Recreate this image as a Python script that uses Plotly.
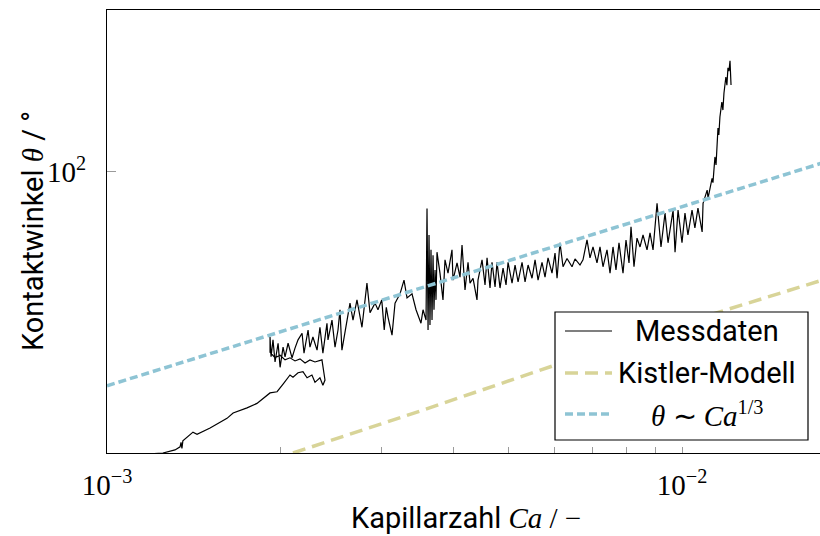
import math
import plotly.graph_objects as go

# ---------------- data ----------------
# Capillary number in units of 1e-3, contact angle in degrees
ca_mess_milli = [
    # lower branch
    1.141, 1.251, 1.313, 1.340, 1.345, 1.350, 1.355, 1.411, 1.434, 1.511, 1.617, 1.657,
    1.752, 1.823, 1.921, 1.976, 2.024, 2.081, 2.106, 2.149, 2.192, 2.228, 2.272, 2.300,
    2.346, 2.374, 2.394,
    # jump and return
    2.374, 2.365, 2.300, 2.254, 2.210, 2.166, 2.123, 2.081, 2.040, 2.000, 1.960, 1.921,
    # noisy upper branch
    1.921, 1.929, 1.944, 1.960, 1.984, 2.000, 2.024, 2.040, 2.065, 2.098, 2.123, 2.149,
    2.184, 2.201, 2.237, 2.254, 2.281, 2.319, 2.346, 2.374, 2.413, 2.423, 2.462, 2.492,
    2.522, 2.542, 2.562, 2.594, 2.646, 2.678, 2.721, 2.776, 2.832, 2.867, 2.925, 2.960,
    3.005, 3.035, 3.060, 3.081, 3.131, 3.169, 3.233, 3.285, 3.325, 3.392, 3.447, 3.516,
    3.545, 3.588, 3.602, 3.617, 3.631, 3.645, 3.660, 3.675, 3.690, 3.704, 3.7195, 3.734,
    3.749, 3.794, 3.840, 3.871, 3.918, 3.981, 3.997, 4.062, 4.111, 4.144, 4.194, 4.245,
    4.279, 4.331, 4.400, 4.418, 4.490, 4.544, 4.581, 4.636, 4.673, 4.730, 4.768, 4.825,
    4.884, 4.943, 4.983, 5.063, 5.125, 5.187, 5.270, 5.334, 5.399, 5.485, 5.552, 5.619,
    5.709, 5.778, 5.848, 5.942, 6.014, 6.063, 6.135, 6.210, 6.310, 6.438, 6.516, 6.647,
    6.727, 6.836, 6.918, 7.002, 7.115, 7.201, 7.288, 7.406, 7.496, 7.586, 7.677, 7.770,
    7.896, 7.991, 8.088, 8.153, 8.251, 8.351, 8.453, 8.555, 8.693, 8.798, 8.905, 9.049,
    9.193, 9.343, 9.456, 9.649, 9.725, 9.843, 10.00, 10.12, 10.24, 10.41, 10.53, 10.66,
    10.84, 10.88, 11.06, 11.10, 11.19,
    # steep rise
    11.28, 11.32, 11.41, 11.46, 11.50, 11.55, 11.59, 11.64, 11.73, 11.78, 11.83, 11.92,
    11.97, 12.02, 12.07, 12.12, 12.17,
]
theta_mess = [
    29.8, 30.0, 30.4, 30.8, 31.4, 30.6, 31.6, 32.8, 32.5, 33.4, 34.8, 35.6,
    36.4, 37.1, 38.8, 39.0, 40.3, 41.9, 41.5, 42.3, 42.5, 41.4, 41.9, 40.6,
    41.4, 40.1, 41.0,
    43.7, 44.7, 44.3, 44.7, 44.1, 44.9, 44.5, 45.1, 44.7, 45.6, 45.1, 46.2,
    49.3, 45.3, 48.7, 44.3, 48.0, 43.3, 47.2, 45.3, 48.0, 45.1, 47.0, 48.7,
    50.1, 46.0, 50.8, 47.2, 49.3, 46.6, 51.4, 46.0, 52.3, 48.7, 53.0, 47.2,
    50.8, 55.4, 46.6, 50.1, 57.0, 53.0, 57.8, 51.4, 62.1, 54.7, 57.0, 55.4,
    57.8, 50.8, 56.0, 53.7, 49.7, 57.0, 59.3, 62.9, 58.3, 59.3, 55.4, 52.3,
    55.4, 53.0, 85.5, 50.8, 76.3, 51.9, 71.6, 53.0, 70.0, 55.4, 65.7, 57.8,
    70.9, 64.8, 57.8, 68.6, 64.8, 71.6, 62.9, 67.7, 63.7, 73.1, 60.3, 67.9,
    62.1, 63.4, 57.8, 62.9, 68.6, 61.6, 69.2, 60.8, 67.9, 61.1, 67.9, 60.8,
    66.2, 61.6, 67.9, 62.1, 67.1, 62.4, 67.9, 62.4, 67.1, 63.4, 68.6, 62.9,
    67.9, 63.7, 69.2, 64.8, 70.6, 63.4, 73.8, 66.6, 69.0, 66.6, 68.9, 67.1,
    68.6, 74.7, 69.2, 72.5, 67.7, 72.5, 66.6, 71.6, 64.8, 72.5, 65.7, 73.8,
    64.8, 74.7, 67.7, 79.0, 66.6, 75.3, 72.5, 76.3, 71.6, 77.0, 71.6, 87.4,
    72.5, 83.8, 73.8, 84.9, 70.9, 84.9, 73.8, 83.8, 76.3, 84.9, 78.7, 85.6,
    77.3, 87.4, 92.5, 89.4, 93.3,
    97.3, 95.5, 106.6, 103.0, 114.6, 120.6, 117.1, 126.5, 134.8, 130.3, 140.2, 150.1,
    145.0, 156.1, 153.9, 160.9, 145.0,
]

ca_kistler = [2.106e-3, 3.502e-3, 6.012e-3, 10.75e-3, 17.38e-3]
theta_kistler = [30.0, 35.9, 43.7, 53.5, 62.7]

ca_power = [1.0e-3, 1.75e-2]
theta_power = [40.0, 103.8]

x_tick_vals = [1e-3, 2e-3, 3e-3, 4e-3, 5e-3, 6e-3, 7e-3, 8e-3, 9e-3, 1e-2]
x_tick_text = ["10<sup>\u22123</sup>", "", "", "", "", "", "", "", "", "10<sup>\u22122</sup>"]
y_tick_vals = [100]
y_tick_text = ["10<sup>2</sup>"]

legend_labels = ["Messdaten", "Kistler-Modell",
                 "<i>\u03b8</i> \u223c <i>Ca</i><sup>1/3</sup>"]

# ---------------- styling ----------------
BLACK = "#000000"
YELLOW = "rgb(216,212,152)"
BLUE = "rgb(142,196,212)"
SANS = "Roboto"
SERIF = "Liberation Serif"
FS = 29
TFS = 29

fig = go.Figure()
fig.add_trace(go.Scatter(x=ca_kistler, y=theta_kistler, mode="lines",
                         line=dict(color=YELLOW, width=3.5, dash="13px,7px"),
                         showlegend=False, hoverinfo="skip"))
fig.add_trace(go.Scatter(x=[v * 1e-3 for v in ca_mess_milli], y=theta_mess, mode="lines",
                         line=dict(color=BLACK, width=1.2),
                         showlegend=False, hoverinfo="skip"))
fig.add_trace(go.Scatter(x=ca_power, y=theta_power, mode="lines",
                         line=dict(color=BLUE, width=3.5, dash="8px,4px"),
                         showlegend=False, hoverinfo="skip"))

L, T, R, B = 107, 10, 0, 83
W, H = 820, 536
pw, ph = W - L - R, H - T - B


def px2paper_x(px):
    return (px - L) / pw


def px2paper_y(py):
    return (H - B - py) / ph


fig.update_layout(
    width=W, height=H,
    margin=dict(l=L, r=R, t=T, b=B, pad=0),
    paper_bgcolor="white", plot_bgcolor="white",
    showlegend=False,
    xaxis=dict(type="log", range=[-3, -3 + pw / 575.0],
               tickvals=x_tick_vals, ticktext=x_tick_text,
               ticks="inside", ticklen=6, tickwidth=1, tickcolor="#9a9a9a",
               ticklabelstandoff=6,
               showline=True, linecolor=BLACK, linewidth=1.3, mirror=True,
               showgrid=False, zeroline=False,
               tickfont=dict(family=SERIF, size=TFS, color=BLACK)),
    yaxis=dict(type="log", range=[math.log10(30), math.log10(200)],
               tickvals=y_tick_vals, ticktext=y_tick_text,
               ticks="inside", ticklen=9, tickwidth=1, tickcolor="#9a9a9a",
               ticklabelstandoff=14,
               showline=True, linecolor=BLACK, linewidth=1.3, mirror=False,
               showgrid=False, zeroline=False,
               tickfont=dict(family=SERIF, size=TFS, color=BLACK)),
)

# axis titles
fig.add_annotation(xref="paper", yref="paper", x=px2paper_x(466), y=px2paper_y(518),
                   xanchor="center", yanchor="middle", showarrow=False,
                   text="Kapillarzahl <span style='font-family:Liberation Serif'><i>Ca</i> / \u2212</span>",
                   font=dict(family=SANS, size=FS, color=BLACK))
fig.add_annotation(xref="paper", yref="paper", x=px2paper_x(33), y=px2paper_y(231),
                   xanchor="center", yanchor="middle", showarrow=False, textangle=-90,
                   text="Kontaktwinkel <span style='font-family:Liberation Serif'><i>\u03b8</i></span> / \u00b0",
                   font=dict(family=SANS, size=FS, color=BLACK))

# manual legend
box = dict(x0=555, x1=808, y0=312, y1=440)
fig.add_shape(type="rect", xref="paper", yref="paper", layer="above",
              x0=px2paper_x(box["x0"]), x1=px2paper_x(box["x1"]),
              y0=px2paper_y(box["y1"]), y1=px2paper_y(box["y0"]),
              line=dict(color=BLACK, width=1.2), fillcolor="white")
rows = [331, 373, 414]
styles = [dict(color=BLACK, width=1.2), dict(color=YELLOW, width=3.5, dash="13px,7px"),
          dict(color=BLUE, width=3.5, dash="8px,4px")]
for ry, st, lab in zip(rows, styles, legend_labels):
    fig.add_shape(type="line", xref="paper", yref="paper", layer="above",
                  x0=px2paper_x(565), x1=px2paper_x(612),
                  y0=px2paper_y(ry), y1=px2paper_y(ry), line=st)
    fam = SERIF if lab.startswith("<i>") else SANS
    fig.add_annotation(xref="paper", yref="paper", x=px2paper_x(707), y=px2paper_y(ry),
                       xanchor="center", yanchor="middle", showarrow=False, text=lab,
                       font=dict(family=fam, size=FS, color=BLACK))

fig.write_html("out.html")
